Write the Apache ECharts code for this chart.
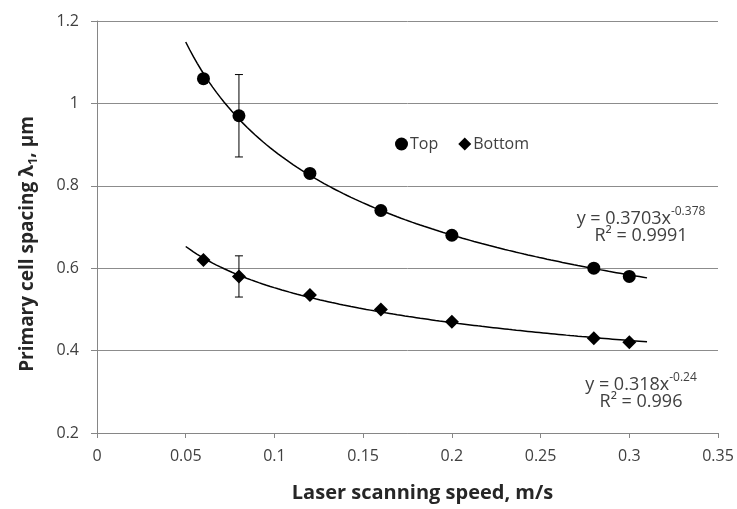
<!DOCTYPE html>
<html>
<head>
<meta charset="utf-8">
<script src="https://cdn.jsdelivr.net/npm/echarts@6/dist/echarts.min.js"></script>
<style>
  html, body { margin: 0; padding: 0; background: #fff; }
  #chart { width: 737px; height: 509px; }
</style>
</head>
<body>
<div id="chart"></div>
<script>
// Laser scanning speed (m/s) at each measured point
const speeds = [0.06, 0.08, 0.12, 0.16, 0.2, 0.28, 0.3];
// Primary cell spacing (µm) for the top and bottom of the track
const topSpacing = [1.06, 0.97, 0.83, 0.74, 0.68, 0.60, 0.58];
const bottomSpacing = [0.62, 0.58, 0.535, 0.50, 0.47, 0.43, 0.42];
// Error bars: [speed, value, half-width]
const topErrors = [[0.08, 0.97, 0.10]];
const bottomErrors = [[0.08, 0.58, 0.05]];
// Power-law fits y = a * x^b, with R²
const topFit = { a: 0.3703, b: -0.378, r2: '0.9991' };
const bottomFit = { a: 0.318, b: -0.24, r2: '0.996' };
const fitRange = [0.05, 0.31];
// Axis ticks [min, max, step]
const xTicks = [0, 0.35, 0.05];
const yTicks = [0.2, 1.2, 0.2];

const FONT = '"Open Sans", sans-serif';
const TEXT = '#404040';
const AXIS = '#868686';

function fitCurve(fit) {
  const pts = [];
  const n = 120;
  for (let i = 0; i <= n; i++) {
    const x = fitRange[0] + (fitRange[1] - fitRange[0]) * i / n;
    pts.push([x, fit.a * Math.pow(x, fit.b)]);
  }
  return pts;
}

function errorBarItem(params, api) {
  const x = api.value(0), y = api.value(1), e = api.value(2);
  const hi = api.coord([x, y + e]);
  const lo = api.coord([x, y - e]);
  const cap = 4;
  const style = { stroke: '#000', lineWidth: 1 };
  return {
    type: 'group',
    children: [
      { type: 'line', shape: { x1: hi[0], y1: hi[1], x2: lo[0], y2: lo[1] }, style },
      { type: 'line', shape: { x1: hi[0] - cap, y1: hi[1], x2: hi[0] + cap, y2: hi[1] }, style },
      { type: 'line', shape: { x1: lo[0] - cap, y1: lo[1], x2: lo[0] + cap, y2: lo[1] }, style }
    ]
  };
}

const chart = echarts.init(document.getElementById('chart'), null, { renderer: 'canvas' });

const option = {
  animation: false,
  backgroundColor: '#fff',
  textStyle: { fontFamily: FONT },
  grid: { left: 97, right: 19, top: 21, bottom: 76, containLabel: false },
  legend: {
    data: [
      { name: 'Top', icon: 'circle' },
      { name: 'Bottom', icon: 'diamond' }
    ],
    left: 390,
    top: 131,
    itemWidth: 13,
    itemHeight: 13,
    itemGap: 20,
    textStyle: { fontFamily: FONT, fontSize: 16, color: TEXT, padding: [0, 0, 0, -3] }
  },
  xAxis: {
    type: 'value',
    min: xTicks[0], max: xTicks[1], interval: xTicks[2],
    name: 'Laser scanning speed, m/s',
    nameLocation: 'middle',
    nameGap: 50,
    nameTextStyle: {
      fontFamily: FONT, fontSize: 20, fontWeight: 'bold', color: '#262626',
      padding: [0, 0, 0, 30]
    },
    axisLine: { show: true, lineStyle: { color: AXIS, width: 1 } },
    axisTick: { show: true, length: 5, lineStyle: { color: AXIS } },
    axisLabel: {
      margin: 15, fontFamily: FONT, fontSize: 16, color: TEXT,
      formatter: v => String(+v.toFixed(2))
    },
    splitLine: { show: false }
  },
  yAxis: {
    type: 'value',
    min: yTicks[0], max: yTicks[1], interval: yTicks[2],
    name: '{b|Primary cell spacing λ}{s|1}{b|, μm}',
    nameLocation: 'middle',
    nameGap: 57,
    nameRotate: 90,
    nameTextStyle: {
      padding: [0, 34, 0, 0],
      rich: {
        b: { fontFamily: FONT, fontSize: 19, fontWeight: 'bold', color: '#262626', lineHeight: 24, verticalAlign: 'middle' },
        s: { fontFamily: FONT, fontSize: 13, fontWeight: 'bold', color: '#262626', lineHeight: 24, verticalAlign: 'bottom' }
      }
    },
    axisLine: { show: true, lineStyle: { color: AXIS, width: 1 } },
    axisTick: { show: true, length: 6, lineStyle: { color: AXIS } },
    axisLabel: {
      margin: 18, fontFamily: FONT, fontSize: 16, color: TEXT,
      formatter: v => String(+v.toFixed(1))
    },
    splitLine: { show: true, lineStyle: { color: '#8c8c8c', width: 1 } }
  },
  series: [
    {
      name: 'Top fit', type: 'line', data: fitCurve(topFit),
      showSymbol: false, symbol: 'none', silent: true,
      lineStyle: { color: '#000', width: 1.5 }, z: 2
    },
    {
      name: 'Bottom fit', type: 'line', data: fitCurve(bottomFit),
      showSymbol: false, symbol: 'none', silent: true,
      lineStyle: { color: '#000', width: 1.5 }, z: 2
    },
    {
      name: 'Top errors', type: 'custom', renderItem: errorBarItem,
      data: topErrors, z: 3, silent: true
    },
    {
      name: 'Bottom errors', type: 'custom', renderItem: errorBarItem,
      data: bottomErrors, z: 3, silent: true
    },
    {
      name: 'Top', type: 'scatter', symbol: 'circle', symbolSize: 13,
      itemStyle: { color: '#000', opacity: 1 },
      data: speeds.map((x, i) => [x, topSpacing[i]]), z: 4
    },
    {
      name: 'Bottom', type: 'scatter', symbol: 'diamond', symbolSize: 14,
      itemStyle: { color: '#000', opacity: 1 },
      data: speeds.map((x, i) => [x, bottomSpacing[i]]), z: 4
    }
  ]
};

chart.setOption(option);

// Trendline equations, anchored in data space
function eqLines(fit, anchor) {
  const p = chart.convertToPixel({ gridIndex: 0 }, anchor);
  const base = { fontFamily: FONT, fontSize: 18, fill: TEXT };
  return [
    {
      type: 'text', x: p[0], y: p[1] - 9,
      style: {
        text: '{t|y = ' + fit.a + 'x}{s|' + fit.b + '}',
        align: 'center', verticalAlign: 'middle',
        rich: {
          t: Object.assign({}, base, { lineHeight: 22, verticalAlign: 'bottom' }),
          s: Object.assign({}, base, { fontSize: 12, lineHeight: 22, verticalAlign: 'top' })
        }
      }
    },
    {
      type: 'text', x: p[0], y: p[1] + 10,
      style: Object.assign({}, base, {
        text: 'R² = ' + fit.r2, align: 'center', verticalAlign: 'middle'
      })
    }
  ];
}

chart.setOption({
  graphic: [].concat(
    eqLines(topFit, [0.3066, 0.703]),
    eqLines(bottomFit, [0.3066, 0.2995])
  )
});
</script>
</body>
</html>
